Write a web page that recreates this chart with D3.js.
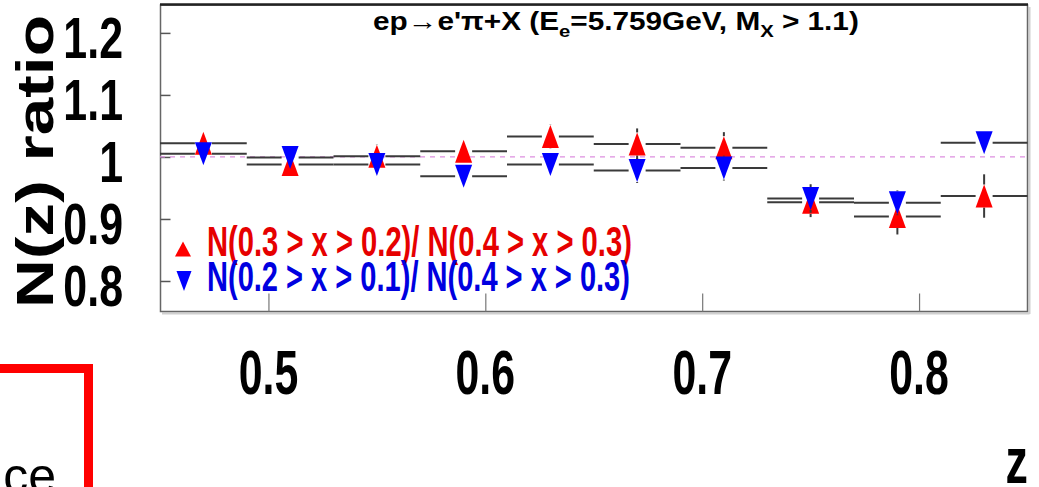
<!DOCTYPE html>
<html><head><meta charset="utf-8">
<script src="https://cdn.jsdelivr.net/npm/d3@7"></script>
<style>html,body{margin:0;padding:0;background:#fff;overflow:hidden}</style>
</head><body><svg id="c" width="1039" height="487"></svg>
<script>
// ---- data ----
const zCenters = [0.47, 0.51, 0.55, 0.59, 0.63, 0.67, 0.71, 0.75, 0.79, 0.83];
const binHalfWidth = 0.02;
const ratioRed  = [1.022, 0.988, 1.001, 1.009, 1.033, 1.021, 1.015, 0.927, 0.904, 0.937];
const errRed    = [0.015, 0.012, 0.019, 0.016, 0.019, 0.025, 0.025, 0.024, 0.029, 0.035];
const ratioBlue = [1.005, 0.999, 0.988, 0.969, 0.988, 0.978, 0.982, 0.933, 0.926, 1.023];
const errBlue   = [0.015, 0.012, 0.018, 0.016, 0.018, 0.020, 0.020, 0.023, 0.020, 0.015];
const yTickValues = [0.8, 0.9, 1.0, 1.1, 1.2];
const yTickLabels = ["0.8", "0.9", "1", "1.1", "1.2"];
const xTickValues = [0.5, 0.6, 0.7, 0.8];
const xTickLabels = ["0.5", "0.6", "0.7", "0.8"];
const legendLabels = ["N(0.3 > x > 0.2)/ N(0.4 > x > 0.3)", "N(0.2 > x > 0.1)/ N(0.4 > x > 0.3)"];
const referenceLine = 1.0;

// ---- setup ----
const FONT = "'Liberation Sans', Arial, Helvetica, sans-serif";
const svg = d3.select("#c");
const x = d3.scaleLinear().domain([0.45, 0.85]).range([160, 1027.5]);
const y = d3.scaleLinear().domain([0.75, 1.245]).range([312, 5]);

function fitted(parent, o) {
  const g = parent.append("g")
    .attr("transform", `translate(${o.x},${o.y})` + (o.rotate ? ` rotate(${o.rotate})` : ""));
  const t = g.append("text")
    .attr("x", 0).attr("y", 0)
    .attr("font-family", FONT)
    .attr("font-size", o.size)
    .attr("font-weight", o.weight || "bold")
    .attr("fill", o.fill || "#000")
    .attr("text-anchor", o.anchor || "start");
  if (o.build) o.build(t); else t.text(o.text);
  if (o.width) {
    const L = t.node().getComputedTextLength();
    t.attr("transform", `scale(${o.width / L},1)`);
  } else if (o.sx) {
    t.attr("transform", `scale(${o.sx},1)`);
  }
  return g;
}

// ---- frame ----
svg.append("line").attr("x1", 162).attr("x2", 1029.5).attr("y1", 313.5).attr("y2", 313.5)
  .attr("stroke", "#d0d0d0").attr("stroke-width", 2);
svg.append("line").attr("x1", 1029.5).attr("x2", 1029.5).attr("y1", 7).attr("y2", 314)
  .attr("stroke", "#d0d0d0").attr("stroke-width", 2);
svg.append("rect").attr("x", 160.5).attr("y", 5).attr("width", 867).attr("height", 306.5)
  .attr("fill", "#fff").attr("stroke", "#666").attr("stroke-width", 1.5);
svg.append("line").attr("x1", 160).attr("x2", 1028).attr("y1", 4.5).attr("y2", 4.5)
  .attr("stroke", "#222").attr("stroke-width", 2.5);

// ---- axes (ticks only) ----
const yAxis = svg.append("g").attr("transform", "translate(160.5,0)")
  .call(d3.axisLeft(y).tickValues(yTickValues).tickSizeInner(-10).tickSizeOuter(0).tickFormat(""));
yAxis.select(".domain").remove();
yAxis.selectAll(".tick line").attr("stroke", "#555").attr("stroke-width", 1.5);

const xAxis = svg.append("g").attr("transform", "translate(0,311.5)")
  .call(d3.axisBottom(x).tickValues(xTickValues).tickSizeInner(-18).tickSizeOuter(0).tickFormat(""));
xAxis.select(".domain").remove();
xAxis.selectAll(".tick line").attr("stroke", "#777").attr("stroke-width", 1.2);

// tick labels
yTickValues.forEach((v, i) => {
  fitted(svg, { x: 123, y: y(v) + 25, size: 58, anchor: "end", sx: 0.74, text: yTickLabels[i] });
});
xTickValues.forEach((v, i) => {
  fitted(svg, { x: x(v), y: 394, size: 63, anchor: "middle", sx: 0.68, text: xTickLabels[i] });
});

// axis titles
fitted(svg, { x: 53, y: 308, rotate: -90, size: 51, width: 293, text: "N(z) ratio" });
fitted(svg, { x: 1028, y: 483, size: 64, anchor: "end", sx: 0.7, text: "z" });

// ---- reference line at 1 ----
svg.append("line").attr("x1", x(0.45)).attr("x2", x(0.85))
  .attr("y1", y(referenceLine)).attr("y2", y(referenceLine))
  .attr("stroke", "#dd8fe0").attr("stroke-width", 1.3).attr("stroke-dasharray", "5,5");

// ---- series ----
const MW = 17, MH = 23, GAPX = 8.5, GAPY = 11.5;
function triUp(cx, cy, w, h) {
  return `M${cx},${cy - h / 2}L${cx + w / 2},${cy + h / 2}L${cx - w / 2},${cy + h / 2}Z`;
}
function triDown(cx, cy, w, h) {
  return `M${cx},${cy + h / 2}L${cx + w / 2},${cy - h / 2}L${cx - w / 2},${cy - h / 2}Z`;
}
function drawSeries(vals, errs, color, up) {
  const g = svg.append("g");
  const d = zCenters.map((z, i) => ({ z, v: vals[i], e: errs[i] }));
  const segs = [];
  d.forEach(p => {
    const cx = x(p.z), cy = y(p.v);
    segs.push([x(p.z - binHalfWidth), cy, cx - GAPX, cy]);
    segs.push([cx + GAPX, cy, x(p.z + binHalfWidth), cy]);
    if (y(p.v + p.e) < cy - GAPY) segs.push([cx, y(p.v + p.e), cx, cy - GAPY]);
    if (y(p.v - p.e) > cy + GAPY) segs.push([cx, cy + GAPY, cx, y(p.v - p.e)]);
  });
  g.selectAll("line.err").data(segs).enter().append("line")
    .attr("x1", s => s[0]).attr("y1", s => s[1]).attr("x2", s => s[2]).attr("y2", s => s[3])
    .attr("stroke", "#3a3a3a").attr("stroke-width", 2);
  g.selectAll("path.m").data(d).enter().append("path")
    .attr("d", p => (up ? triUp : triDown)(x(p.z), y(p.v), MW, MH))
    .attr("fill", color);
}
drawSeries(ratioRed, errRed, "#ff0000", true);
drawSeries(ratioBlue, errBlue, "#0000ff", false);

// ---- title ----
fitted(svg, {
  x: 373, y: 30, size: 25, width: 486,
  build: t => {
    t.append("tspan").text("ep\u2192e'\u03c0+X (E");
    t.append("tspan").attr("font-size", 17).attr("dy", 7).text("e");
    t.append("tspan").attr("dy", -7).text("=5.759GeV, M");
    t.append("tspan").attr("font-size", 17).attr("dy", 7).text("X");
    t.append("tspan").attr("dy", -7).text(" > 1.1)");
  }
});

// ---- legend ----
svg.append("path").attr("d", triUp(183, 249, 16, 15)).attr("fill", "#ff0000");
svg.append("path").attr("d", triDown(184, 281, 15, 20)).attr("fill", "#0000ff");
fitted(svg, { x: 207, y: 256, size: 43, width: 425, fill: "#e60000", text: legendLabels[0] });
fitted(svg, { x: 207, y: 291, size: 43, width: 423, fill: "#0000e0", text: legendLabels[1] });

// ---- slide artefact: red box corner and text ----
svg.append("path").attr("d", "M0,368.5H88.5V487")
  .attr("fill", "none").attr("stroke", "#ff0000").attr("stroke-width", 9);
svg.append("text").attr("x", 56).attr("y", 493).attr("text-anchor", "end")
  .attr("font-family", FONT).attr("font-size", 50).attr("fill", "#000").text("ce");
</script>
</body></html>
